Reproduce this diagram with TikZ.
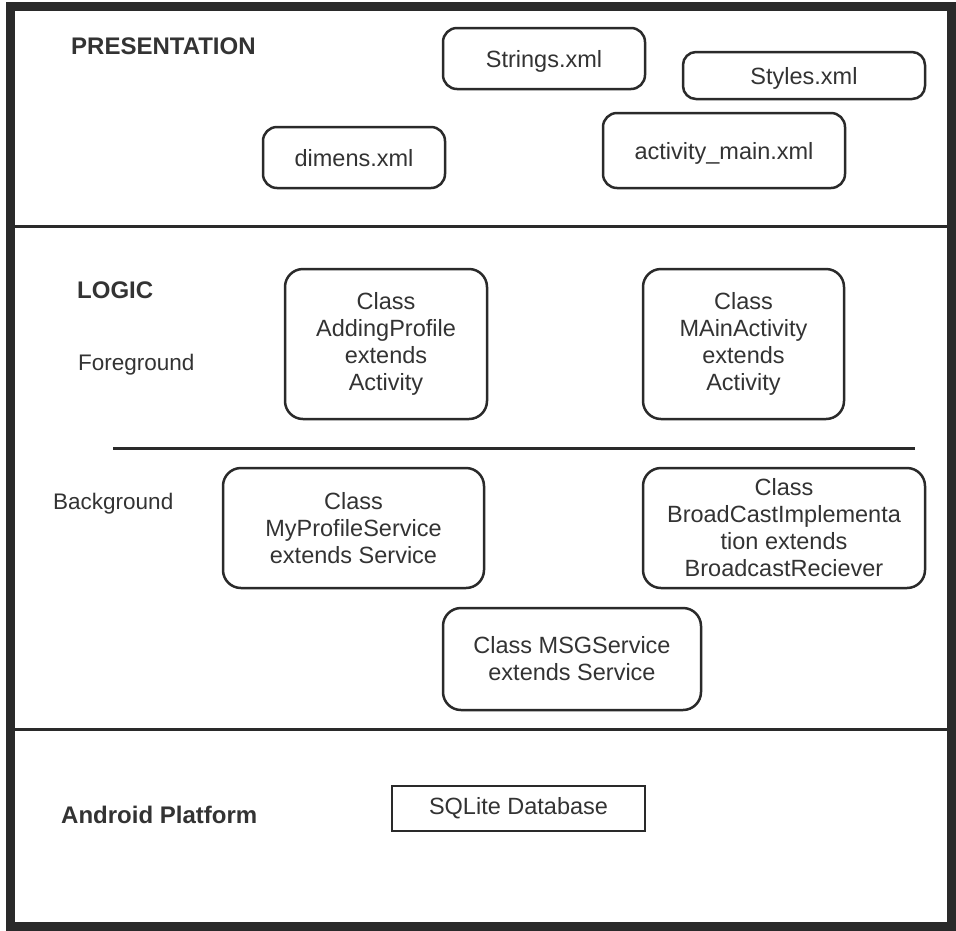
\documentclass[tikz,border=0pt]{standalone}
\usepackage{fontspec}
\setmainfont{Liberation Sans}
\definecolor{ink}{HTML}{2A2A2A}
\definecolor{txt}{HTML}{333333}
\begin{document}
\begin{tikzpicture}[x=1pt,y=-1pt]
\tikzset{
  rbox/.style={draw=ink, line width=2.5pt, rounded corners=14pt, align=center, inner sep=0pt,
    font=\fontsize{23.5}{27}\selectfont, text=txt},
  onebox/.style={rbox, text height=18pt, text depth=0pt},
  sbox/.style={draw=ink, line width=1.5pt, align=center, inner sep=0pt,
    font=\fontsize{23.5}{27}\selectfont, text=txt},
  layerlabel/.style={anchor=west, inner sep=0pt, font=\fontsize{24}{27}\selectfont\bfseries, text=txt},
  sublabel/.style={anchor=west, inner sep=0pt, font=\fontsize{22.5}{27}\selectfont, text=txt},
  sepline/.style={draw=ink, line width=3pt}
}
\useasboundingbox (0,0) rectangle (956,930);
\fill[white] (0,0) rectangle (956,930);
% outer frame
\draw[draw=ink, line width=9pt] (10,6) rectangle (951.5,926);
% separators
\draw[sepline] (10,226) -- (951,226);
\draw[sepline] (10,729) -- (951,729);
\draw[sepline] (113,448) -- (915,448);
% labels
\node[layerlabel] (pres) at (71,46) {PRESENTATION};
\node[layerlabel] (logic) at (77,290) {LOGIC};
\node[sublabel] (fg) at (78,365) {Foreground};
\node[sublabel] (bg) at (53,504) {Background};
\node[layerlabel] (andr) at (61,815) {Android Platform};
% presentation boxes
\node[onebox, minimum width=202pt, minimum height=61pt] (strings) at (544,58.5) {Strings.xml};
\node[onebox, rounded corners=13pt, minimum width=242pt, minimum height=47pt] (styles) at (804,75.5) {Styles.xml};
\node[onebox, minimum width=242pt, minimum height=75pt] (actmain) at (724,150.5) {activity\_main.xml};
\node[onebox, minimum width=182pt, minimum height=61pt] (dimens) at (354,157.5) {dimens.xml};
% logic foreground
\node[rbox, rounded corners=18pt, minimum width=202pt, minimum height=150pt] (adding) at (386,344) {Class\\AddingProfile\\extends\\Activity};
\node[rbox, rounded corners=18pt, minimum width=201pt, minimum height=150pt] (mainact) at (743.5,344) {Class\\MAinActivity\\extends\\Activity};
% logic background
\node[rbox, rounded corners=18pt, minimum width=261pt, minimum height=120pt] (myprof) at (353.5,528) {Class\\MyProfileService\\extends Service};
\node[rbox, rounded corners=18pt, minimum width=282pt, minimum height=120pt] (bcast) at (784,528) {Class\\BroadCastImplementa\\tion extends\\BroadcastReciever};
\node[rbox, rounded corners=18pt, minimum width=258pt, minimum height=102pt] (msg) at (572,659) {Class MSGService\\extends Service};
% platform
\node[sbox, minimum width=253pt, minimum height=45pt] (sqlite) at (518.5,808.5) {SQLite Database};
\end{tikzpicture}
\end{document}
